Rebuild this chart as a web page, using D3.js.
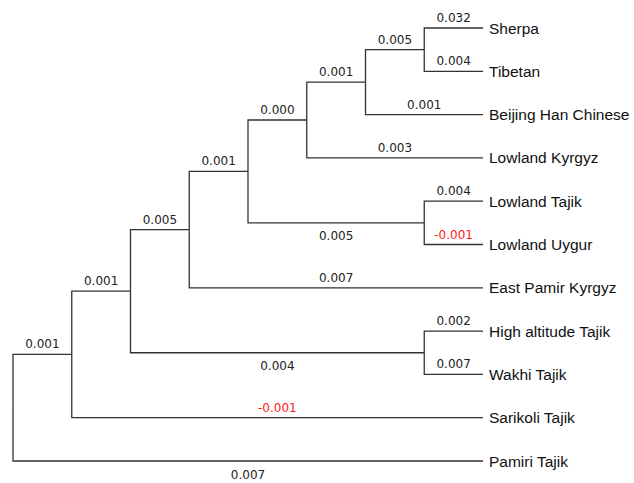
<!DOCTYPE html>
<html>
<head>
<meta charset="utf-8">
<script src="https://cdn.jsdelivr.net/npm/d3@7"></script>
<style>
  html, body { margin: 0; padding: 0; background: #fff; }
  svg { display: block; }
</style>
</head>
<body>
<svg id="chart" width="634" height="483"></svg>
<script>
// Tree: each node id, its parent, and the branch length to that parent.
const nodeIds = [
  "root", "n1", "Pamiri Tajik", "n2", "Sarikoli Tajik", "n3", "nHW",
  "n4", "East Pamir Kyrgyz", "n5", "nTU", "n6", "Lowland Kyrgyz", "n7",
  "Beijing Han Chinese", "Sherpa", "Tibetan", "Lowland Tajik", "Lowland Uygur",
  "High altitude Tajik", "Wakhi Tajik"
];
const parentIds = [
  "", "root", "root", "n1", "n1", "n2", "n2",
  "n3", "n3", "n4", "n4", "n5", "n5", "n6",
  "n6", "n7", "n7", "nTU", "nTU",
  "nHW", "nHW"
];
const branchLengths = [
  null, 0.001, 0.007, 0.001, -0.001, 0.005, 0.004,
  0.001, 0.007, 0.000, 0.005, 0.001, 0.003, 0.005,
  0.001, 0.032, 0.004, 0.004, -0.001,
  0.002, 0.007
];
// Branches whose length label sits under the line.
const labelsBelow = ["Pamiri Tajik", "nHW", "nTU"];

const rows = nodeIds.map((id, i) => ({ id, parent: parentIds[i] || null, length: branchLengths[i] }));
const root = d3.stratify().id(d => d.id).parentId(d => d.parent)(rows);

d3.cluster().size([1, 1]).separation(() => 1)(root);

const xScale = d3.scaleLinear().domain([0, 1]).range([13, 483]);                     // depth -> px
const yScale = d3.scaleLinear().domain(d3.extent(root.leaves(), d => d.x)).range([28, 461]); // leaf order -> px

const fmt = d3.formatLocale({ decimal: ".", thousands: ",", grouping: [3], currency: ["", ""], minus: "-" }).format(".3f");

const svg = d3.select("#chart");
const g = svg.append("g");

const links = root.links();

// Elbow branches: vertical at parent, then horizontal to child.
g.selectAll("path.branch")
  .data(links)
  .join("path")
  .attr("class", "branch")
  .attr("fill", "none")
  .attr("stroke", "#333")
  .attr("stroke-width", 1.3)
  .attr("d", d => {
    const px = xScale(d.source.y), py = yScale(d.source.x);
    const cx = xScale(d.target.y), cy = yScale(d.target.x);
    return `M${px},${py}V${cy}H${cx}`;
  });

// Branch length labels
g.selectAll("text.len")
  .data(links)
  .join("text")
  .attr("class", "len")
  .attr("x", d => (xScale(d.source.y) + xScale(d.target.y)) / 2)
  .attr("y", d => yScale(d.target.x) + (labelsBelow.includes(d.target.id) ? 17.5 : -6))
  .attr("text-anchor", "middle")
  .attr("font-family", "DejaVu Sans, Verdana, sans-serif")
  .attr("font-size", 12)
  .attr("fill", d => d.target.data.length < 0 ? "#ff1a1a" : "#222")
  .text(d => fmt(d.target.data.length));

// Leaf names
g.selectAll("text.leaf")
  .data(root.leaves())
  .join("text")
  .attr("class", "leaf")
  .attr("x", d => xScale(d.y) + 6)
  .attr("y", d => yScale(d.x))
  .attr("dy", "0.36em")
  .attr("font-family", "Liberation Sans, Arial, sans-serif")
  .attr("font-size", 15.5)
  .attr("fill", "#111")
  .text(d => d.id);
</script>
</body>
</html>
